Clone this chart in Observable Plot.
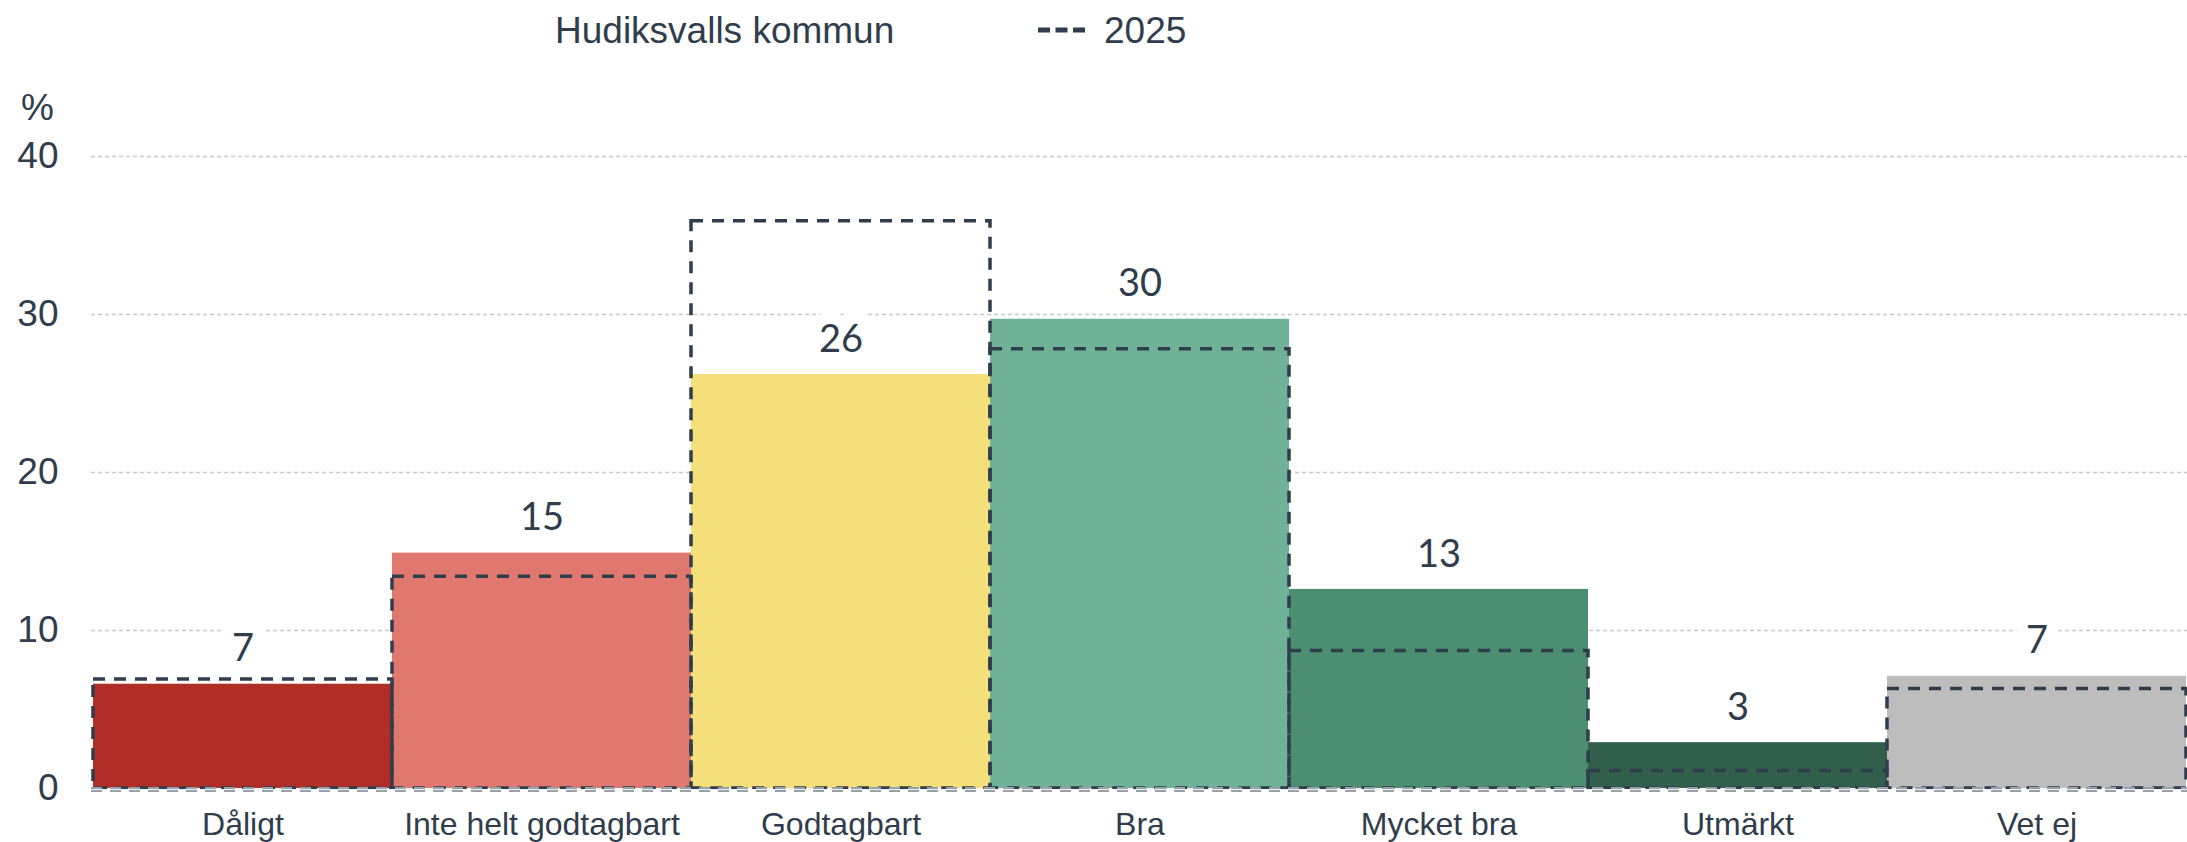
<!DOCTYPE html>
<html><head><meta charset="utf-8">
<script src="https://cdn.jsdelivr.net/npm/d3@7"></script>
<script src="https://cdn.jsdelivr.net/npm/@observablehq/plot@0.6"></script>
<style>
body{margin:0;background:#fff;}
#wrap{position:relative;width:2187px;height:842px;background:#fff;}
#legend{position:relative;width:2187px;height:62px;font-family:"Liberation Sans",Arial,sans-serif;font-size:37px;color:#2f3d4c;}
#legend .item{position:absolute;top:0;height:62px;line-height:62px;white-space:nowrap;}
#legend svg{position:absolute;}
</style></head>
<body>
<div id="wrap">
  <div id="legend">
    <span class="item" style="left:555px">Hudiksvalls kommun</span>
    <svg style="left:1038px;top:27px" width="47" height="6"><line x1="0" x2="47" y1="3" y2="3" stroke="#2f3d4c" stroke-width="5" stroke-dasharray="12,5.5"/></svg>
    <span class="item" style="left:1104px">2025</span>
  </div>
  <div id="chart"></div>
</div>
<script>
const categories = ["Dåligt","Inte helt godtagbart","Godtagbart","Bra","Mycket bra","Utmärkt","Vet ej"];
const values2026 = [6.6, 14.9, 26.2, 29.7, 12.6, 2.9, 7.1];
const labels2026 = ["7","15","26","30","13","3","7"];
const values2025 = [6.9, 13.4, 35.9, 27.8, 8.7, 1.1, 6.3];
const barColors = ["#b02e27","#e07870","#f5df7a","#6fb297","#4b8f70","#325e4c","#bdbdbd"];
const yTicks = [0,10,20,30,40];

const data = categories.map((c,i)=>({cat:c, v:values2026[i], p:values2025[i], label:labels2026[i]}));
const ink = "#2f3d4c";

const chart = Plot.plot({
  width:2187, height:780,
  marginLeft:91, marginRight:0, marginTop:94, marginBottom:54,
  style:{fontFamily:"'Liberation Sans', Arial, sans-serif", color:ink, background:"white"},
  x:{domain:categories, padding:0, label:null},
  y:{domain:[0,40], label:null},
  color:{domain:categories, range:barColors},
  marks:[
    Plot.gridY([10,20,30,40], {stroke:"#c9c9c9", strokeOpacity:1, strokeWidth:1.3, strokeDasharray:"4,3"}),
    Plot.axisY({ticks:yTicks, tickSize:0, tickPadding:33, fontSize:37, label:null, fill:ink}),
    Plot.axisX({tickSize:0, tickPadding:24, fontSize:32, label:null, fill:ink}),
    Plot.barY(data, {x:"cat", y:"v", fill:"cat"}),
    Plot.text(data, {x:"cat", y:"v", text:"label", dy:-35, fontSize:38, fontFamily:"Lato", fill:ink, stroke:"white", strokeWidth:24}),
    Plot.barY(data, {x:"cat", y1:0, y2:"p", fill:"none", stroke:ink, strokeWidth:3.5, strokeDasharray:"12,9"}),
    Plot.ruleY([0], {stroke:"#98a0a8", strokeWidth:5, strokeDasharray:"11,8", dy:1}),
    Plot.ruleY([0], {stroke:"#eef0f2", strokeWidth:1, dy:1}),
    Plot.text(["%"], {frameAnchor:"top-left", dx:-54, dy:-48, fontSize:37, fill:ink, textAnchor:"middle", lineAnchor:"middle"})
  ]
});
document.getElementById("chart").appendChild(chart);
</script>
</body></html>
